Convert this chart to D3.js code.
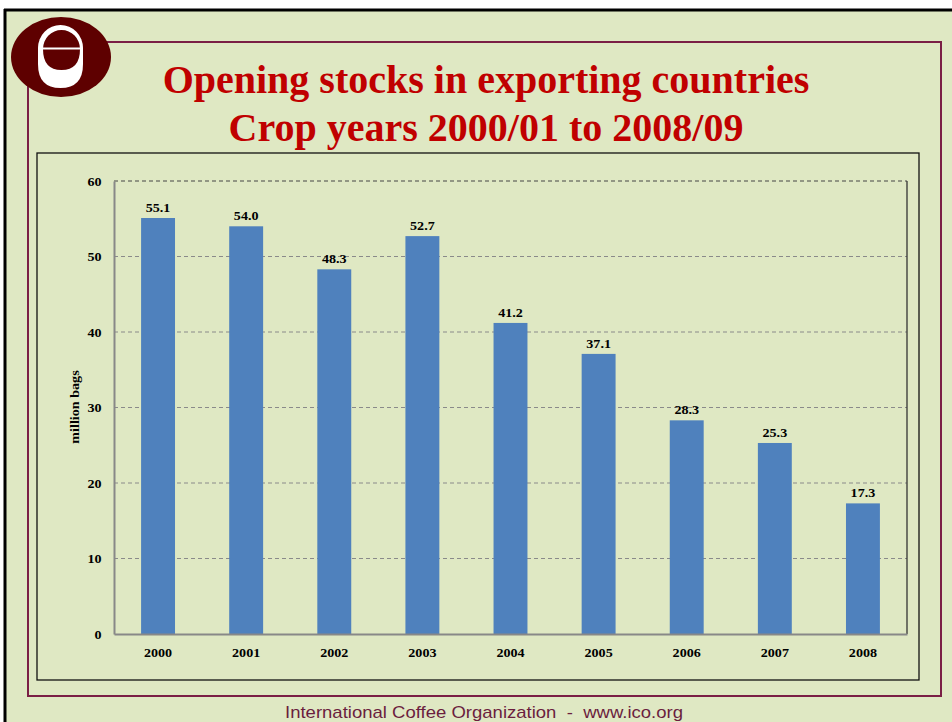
<!DOCTYPE html>
<html><head><meta charset="utf-8">
<script src="https://cdn.jsdelivr.net/npm/d3@7"></script>
<style>html,body{margin:0;padding:0;background:#fff;}svg{display:block;}</style>
</head><body>
<script>
const years = ["2000","2001","2002","2003","2004","2005","2006","2007","2008"];
const stocks = [55.1, 54.0, 48.3, 52.7, 41.2, 37.1, 28.3, 25.3, 17.3];
const yTicks = [0, 10, 20, 30, 40, 50, 60];
const titleLines = ["Opening stocks in exporting countries", "Crop years 2000/01 to 2008/09"];
const yLabel = "million bags";
const footer = "International Coffee Organization  -  www.ico.org";

const W = 952, H = 722;
const svg = d3.select("body").append("svg").attr("width", W).attr("height", H);
const bg = "#DFE8C3";
svg.append("rect").attr("x", 5).attr("y", 10).attr("width", W - 5).attr("height", H - 10).attr("fill", bg);
svg.append("line").attr("x1", 4).attr("x2", W).attr("y1", 10).attr("y2", 10).attr("stroke", "#000").attr("stroke-width", 3);
svg.append("line").attr("x1", 5).attr("x2", 5).attr("y1", 9).attr("y2", H).attr("stroke", "#000").attr("stroke-width", 3);

// maroon frame
svg.append("rect").attr("x", 28).attr("y", 42).attr("width", 913).attr("height", 654)
  .attr("fill", "none").attr("stroke", "#7A1F45").attr("stroke-width", 2);

// logo
const lg = svg.append("g");
lg.append("ellipse").attr("cx", 61).attr("cy", 57).attr("rx", 50).attr("ry", 40).attr("fill", "#5E0000");
lg.append("path").attr("d", "M38,48 A22.5,23 0 0 1 83,48 L83,64 Q83,88 60.5,88 Q38,88 38,64 Z").attr("fill", "#fff");
lg.append("path").attr("d", "M43,49 A18.5,19 0 0 1 80,49 Q80,70 61.5,70 Q43,70 43,49 Z").attr("fill", "#5E0000");
lg.append("line").attr("x1", 42).attr("x2", 81).attr("y1", 48.5).attr("y2", 48.5).attr("stroke", "#fff").attr("stroke-width", 2);

// title
svg.append("g").selectAll("text").data(titleLines).join("text")
  .attr("x", 486).attr("y", (d, i) => 93 + i * 48)
  .attr("text-anchor", "middle")
  .attr("font-family", "Liberation Serif, Times New Roman, serif")
  .attr("font-weight", "bold").attr("font-size", 40).attr("fill", "#C00000")
  .text(d => d);

// chart box
svg.append("rect").attr("x", 37).attr("y", 153).attr("width", 882).attr("height", 527)
  .attr("fill", "none").attr("stroke", "#111").attr("stroke-width", 1.3);

const x0 = 114, x1 = 907, y0 = 634, y1 = 181;
const x = d3.scaleBand().domain(years).range([x0, x1]).paddingInner(0.615).paddingOuter(0.3075);
const y = d3.scaleLinear().domain([0, 60]).range([y0, y1]);

const font = "Liberation Serif, Times New Roman, serif";
const fs = 12.5, sx = 1.13;

// gridlines
svg.append("g").selectAll("line").data(yTicks.filter(t => t > 0)).join("line")
  .attr("x1", x0).attr("x2", x1).attr("y1", d => y(d)).attr("y2", d => y(d))
  .attr("stroke", d => d === 60 ? "#444" : "#8a8a8a").attr("stroke-width", 1)
  .attr("stroke-dasharray", "4,3");

// plot right border
svg.append("line").attr("x1", x1).attr("x2", x1).attr("y1", y1).attr("y2", y0).attr("stroke", "#333").attr("stroke-width", 1.3);

// bars
svg.append("g").selectAll("rect").data(stocks).join("rect")
  .attr("x", (d, i) => x(years[i])).attr("width", x.bandwidth())
  .attr("y", d => y(d)).attr("height", d => y(0) - y(d))
  .attr("fill", "#4F81BD");

// data labels
svg.append("g").selectAll("text").data(stocks).join("text")
  .attr("transform", (d, i) => `translate(${x(years[i]) + x.bandwidth() / 2},${y(d) - 6}) scale(${sx},1)`)
  .attr("text-anchor", "middle").attr("font-family", font).attr("font-weight", "bold")
  .attr("font-size", fs).attr("fill", "#000").text(d => d.toFixed(1));

// axes
const yAxis = svg.append("g").attr("transform", `translate(${x0},0)`)
  .call(d3.axisLeft(y).tickValues(yTicks).tickSize(0).tickPadding(11));
const xAxis = svg.append("g").attr("transform", `translate(0,${y0})`)
  .call(d3.axisBottom(x).tickSize(0).tickPadding(14));
[yAxis, xAxis].forEach(a => {
  a.select(".domain").attr("stroke", "#888").attr("stroke-width", 2);
  a.selectAll("text").attr("font-family", font).attr("font-weight", "bold").attr("font-size", fs)
    .attr("fill", "#000").attr("transform", `scale(${sx},1)`);
});

// y label
svg.append("text").attr("transform", `translate(79,407) rotate(-90) scale(${sx},1)`)
  .attr("text-anchor", "middle").attr("font-family", font).attr("font-weight", "bold")
  .attr("font-size", fs).attr("fill", "#000").text(yLabel);

// footer
svg.append("text").attr("x", 285).attr("y", 717.5)
  .attr("font-family", "Liberation Sans, Arial, sans-serif").attr("font-size", 17)
  .attr("textLength", 398).attr("lengthAdjust", "spacingAndGlyphs")
  .attr("fill", "#6B1E3E").attr("xml:space", "preserve").style("white-space", "pre").text(footer);
</script>
</body></html>
